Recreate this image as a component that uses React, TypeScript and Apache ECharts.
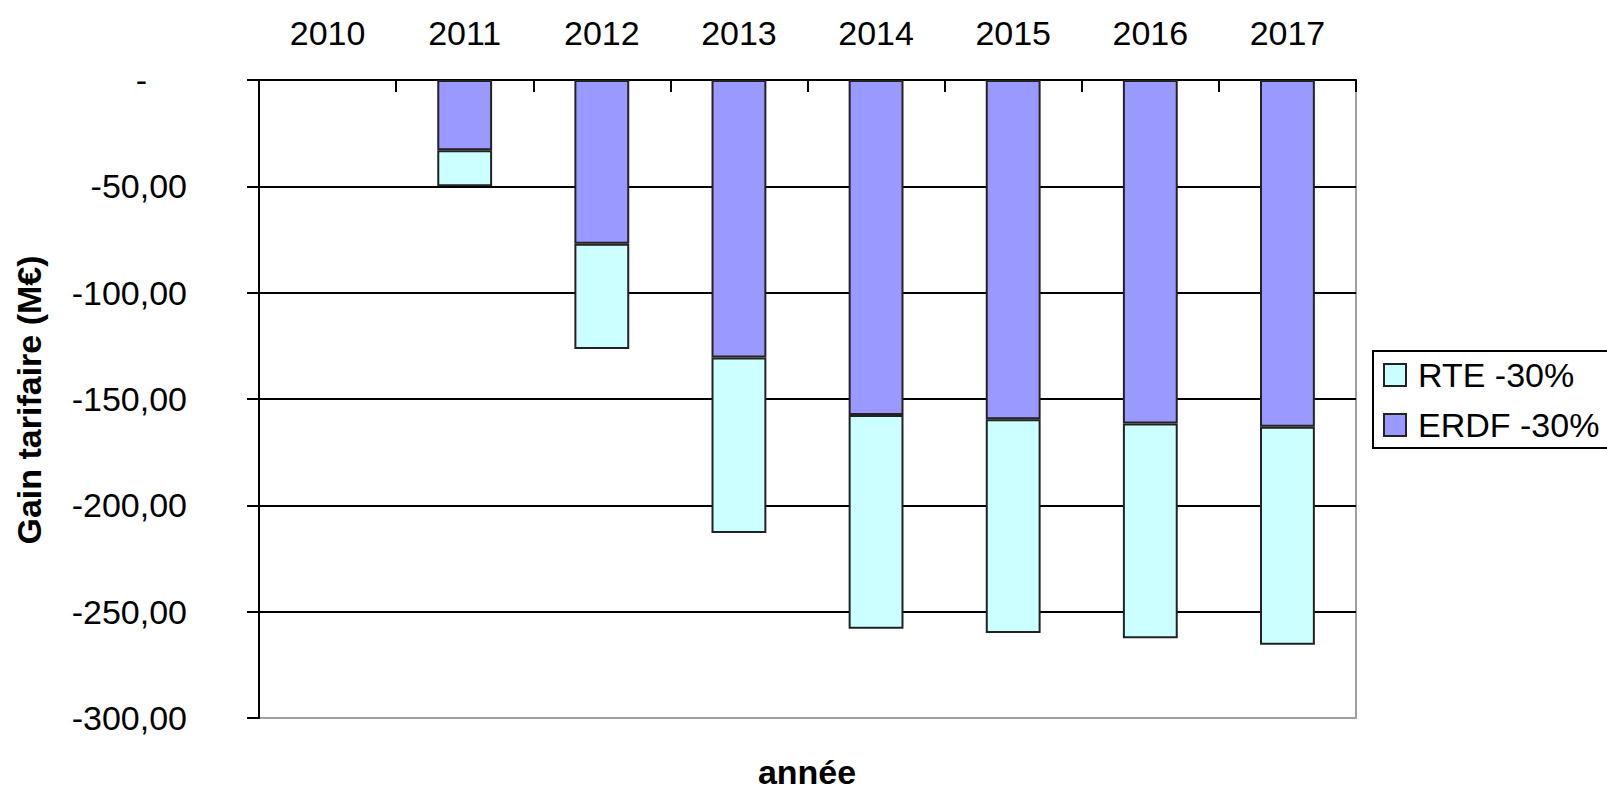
import React, { useEffect, useRef } from "react";
import * as echarts from "echarts";

const years = ["2010", "2011", "2012", "2013", "2014", "2015", "2016", "2017"];
const erdf = [null, -33, -77, -130.5, -157.5, -159.5, -161.5, -163];
const rte = [null, -17, -49.5, -82.5, -100.5, -100.5, -101, -102.5];
const yTicks = { min: -300, max: 0, interval: 50 };
const FONT = "'Liberation Sans', Arial, sans-serif";

export default function App() {
  const ref = useRef<HTMLDivElement>(null);
  useEffect(() => {
    if (!ref.current) return;
    const chart = echarts.init(ref.current, null, { renderer: "svg" });
    const splitColors = ["#a0a0a0", "#000", "#000", "#000", "#000", "#000", "#000"];
    chart.setOption({
      animation: false,
      backgroundColor: "#fff",
      textStyle: { fontFamily: FONT },
      grid: {
        left: 259,
        right: 251,
        top: 80,
        bottom: 73,
        show: true,
        borderColor: "#a0a0a0",
        borderWidth: 2,
        backgroundColor: "transparent",
      },
      legend: {
        data: ["RTE -30%", "ERDF -30%"],
        orient: "vertical",
        left: 1373,
        top: 351,
        padding: [4, 12, 3, 10],
        itemWidth: 22,
        itemHeight: 22,
        itemGap: 10,
        borderColor: "#000",
        borderWidth: 2,
        icon: "rect",
        textStyle: {
          fontFamily: FONT,
          fontSize: 34,
          color: "#000",
          lineHeight: 40,
          padding: [0, 0, 0, 7],
        },
      },
      xAxis: {
        type: "category",
        data: years,
        position: "top",
        axisLine: { show: true, onZero: false, lineStyle: { color: "#000", width: 2 } },
        axisTick: { show: true, inside: true, length: 12, lineStyle: { color: "#000", width: 2 } },
        axisLabel: { fontFamily: FONT, fontSize: 34, color: "#000", margin: 30 },
        splitLine: { show: false },
      },
      yAxis: {
        type: "value",
        min: yTicks.min,
        max: yTicks.max,
        interval: yTicks.interval,
        axisLine: { show: true, lineStyle: { color: "#000", width: 2 } },
        axisTick: { show: true, length: 12, lineStyle: { color: "#000", width: 2 } },
        axisLabel: {
          fontFamily: FONT,
          fontSize: 34,
          color: "#000",
          margin: 72,
          formatter: (v: number) => (v === 0 ? "{d|-}" : v.toFixed(2).replace(".", ",")),
          rich: {
            d: { fontFamily: FONT, fontSize: 34, color: "#000", padding: [0, 40, 0, 0] },
          },
        },
        splitLine: { show: true, lineStyle: { color: splitColors, width: 2 } },
      },
      series: [
        {
          name: "ERDF -30%",
          type: "bar",
          stack: "total",
          data: erdf,
          barWidth: "40%",
          itemStyle: { color: "#9999FF", borderColor: "#222", borderWidth: 2 },
        },
        {
          name: "RTE -30%",
          type: "bar",
          stack: "total",
          data: rte,
          barWidth: "40%",
          itemStyle: { color: "#CCFFFF", borderColor: "#222", borderWidth: 2 },
        },
      ],
      graphic: [
        {
          type: "text",
          x: 29,
          y: 400,
          rotation: Math.PI / 2,
          style: {
            text: "Gain tarifaire (M€)",
            fontFamily: FONT,
            fontSize: 34,
            fontWeight: "bold",
            fill: "#000",
            align: "center",
            verticalAlign: "middle",
          },
        },
        {
          type: "text",
          x: 807,
          y: 772,
          style: {
            text: "année",
            fontFamily: FONT,
            fontSize: 34,
            fontWeight: "bold",
            fill: "#000",
            align: "center",
            verticalAlign: "middle",
          },
        },
      ],
    });
    return () => chart.dispose();
  }, []);
  return (
    <div
      ref={ref}
      style={{ position: "absolute", left: 0, top: 0, width: 1607, height: 791 }}
    />
  );
}
